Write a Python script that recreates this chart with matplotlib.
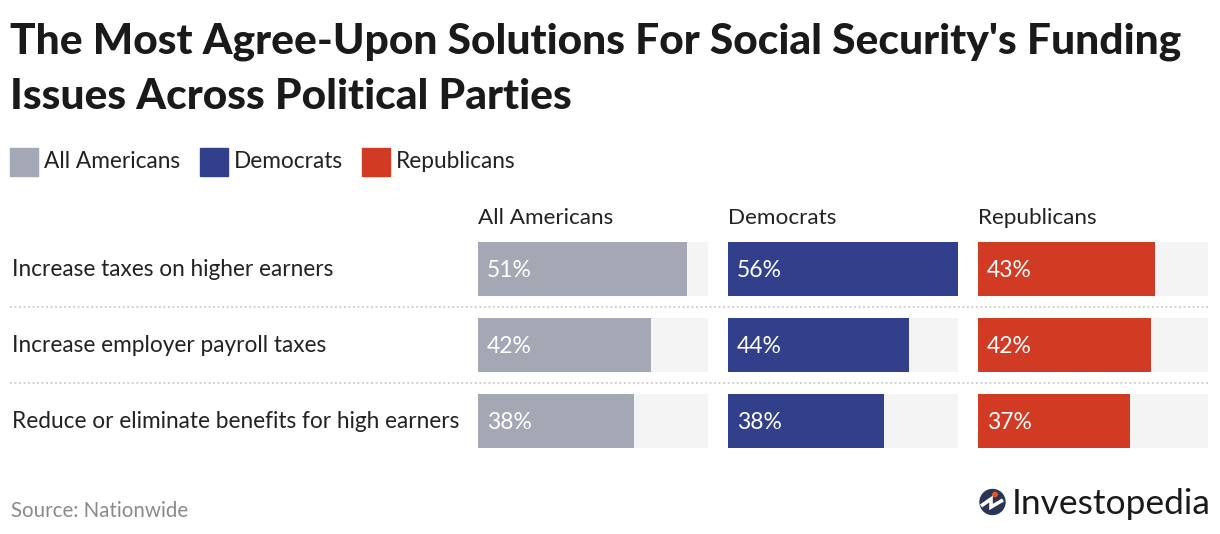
import matplotlib
matplotlib.use("Agg")
import matplotlib.pyplot as plt
from matplotlib.patches import Rectangle, Circle
from matplotlib.lines import Line2D

# ---- data ----
solutions = [
    "Increase taxes on higher earners",
    "Increase employer payroll taxes",
    "Reduce or eliminate benefits for high earners",
]
groups = ["All Americans", "Democrats", "Republicans"]
all_americans = [51, 42, 38]
democrats = [56, 44, 38]
republicans = [43, 42, 37]
series = [all_americans, democrats, republicans]
colors = ["#a4a7b4", "#323f8b", "#d13a23"]
scale_max = 56

W, H = 1220, 534
FONT = "Lato"
plt.rcParams["font.family"] = [FONT, "DejaVu Sans"]

fig = plt.figure(figsize=(W / 100, H / 100), dpi=100)


def fx(px):
    return px / W


def fy(py):
    return 1 - py / H


# pixel transform (origin top-left is handled by fy-like flip)
def pin(px, py):
    return px / 100, (H - py) / 100


# title
fig.text(fx(10), fy(42), "The Most Agree-Upon Solutions For Social Security's Funding",
         fontsize=30.6, fontweight="black", color="#1a1a1a", va="center", ha="left")
fig.text(fx(10), fy(97), "Issues Across Political Parties",
         fontsize=30.6, fontweight="black", color="#1a1a1a", va="center", ha="left")

# legend
leg_x = [10, 200, 362]
for x0, name, col in zip(leg_x, groups, colors):
    fig.patches.append(Rectangle((fx(x0), fy(176)), fx(28), 28 / H, color=col,
                                 transform=fig.transFigure, figure=fig))
    fig.text(fx(x0 + 34), fy(161), name, fontsize=16.3, color="#222222",
             va="center", ha="left")

# panels
panel_x = [478, 728, 978]
panel_w = 230
row_top, row_step = 231, 76
n = len(solutions)
for px, name, vals, col in zip(panel_x, groups, series, colors):
    ax = fig.add_axes([fx(px), fy(row_top + n * row_step), fx(panel_w), n * row_step / H])
    ypos = list(range(n))
    ax.barh(ypos, [scale_max] * n, height=54 / row_step, color="#f4f4f4", left=0)
    ax.barh(ypos, vals, height=54 / row_step, color=col, left=0)
    for y, v in zip(ypos, vals):
        ax.text(2.2, y + 0.02, f"{v}%", color="white", fontsize=16.5, va="center", ha="left")
    ax.set_xlim(0, scale_max)
    ax.set_ylim(n - 0.5, -0.5)
    ax.axis("off")
    fig.text(fx(px), fy(218), name, fontsize=16.2, color="#222222", va="center", ha="left")

# row labels and separators
for i, label in enumerate(solutions):
    yc = row_top + row_step * i + row_step / 2
    fig.text(fx(12), fy(yc), label, fontsize=16.3, color="#222222", va="center", ha="left")
    if i < n - 1:
        ysep = row_top + row_step * (i + 1)
        fig.add_artist(Line2D([fx(10), fx(1208)], [fy(ysep), fy(ysep)], color="#cccccc",
                              linewidth=1.3, linestyle=(0, (1, 1.5)),
                              transform=fig.transFigure))

# source
fig.text(fx(11), fy(511), "Source: Nationwide", fontsize=14.8, color="#8a8a8a",
         va="center", ha="left")

# logo
tr = fig.dpi_scale_trans
fig.patches.append(Circle(pin(992.5, 502), 0.125, color="#2a3456",
                          transform=tr, figure=fig))
zig_x = [981, 991, 991, 1003]
zig_y = [506, 499, 507, 500]
zx, zy = zip(*[pin(a, b) for a, b in zip(zig_x, zig_y)])
fig.add_artist(Line2D(zx, zy, color="white", linewidth=2.6, transform=tr,
                      solid_joinstyle="miter", solid_capstyle="butt"))
fig.patches.append(Circle(pin(995, 494.5), 0.022, color="#e8551f",
                          transform=tr, figure=fig))
fig.text(fx(1012), fy(504), "Investopedia", fontsize=25.5, color="#1a1a1a",
         va="center", ha="left")

fig.savefig("out.png", dpi=100, facecolor="white")
